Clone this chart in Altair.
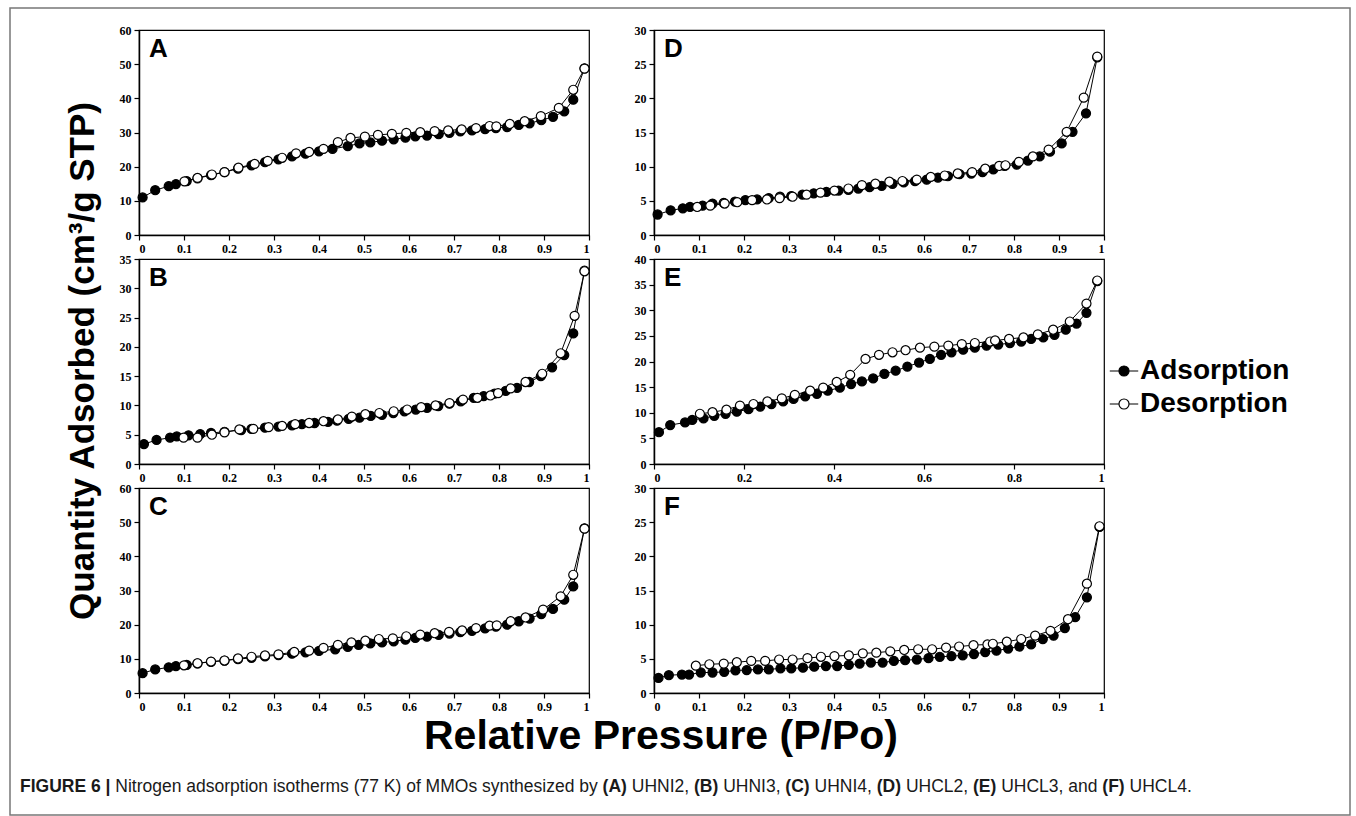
import altair as alt
import pandas as pd

SERIES = ["Adsorption", "Desorption"]

# ---------------- data ----------------
A_ads_x = [0.008,0.036,0.066,0.082,0.106,0.13,0.16,0.19,0.22,0.25,0.28,0.31,0.34,0.37,0.40,0.43,0.464,0.49,0.514,0.54,0.566,0.592,0.614,0.64,0.666,0.69,0.714,0.74,0.769,0.793,0.818,0.844,0.868,0.894,0.92,0.945,0.965,0.99]
A_ads_y = [11.0,13.1,14.3,14.9,15.8,16.6,17.5,18.4,19.4,20.4,21.3,22.1,23.0,23.8,24.5,25.2,26.0,26.8,27.1,27.6,28.0,28.5,28.9,29.1,29.5,29.9,30.3,30.6,31.0,31.3,31.6,32.2,32.7,33.6,34.6,36.2,39.6,48.8]
A_des_x = [0.101,0.13,0.162,0.19,0.221,0.257,0.286,0.318,0.349,0.378,0.41,0.442,0.47,0.502,0.531,0.562,0.594,0.625,0.657,0.687,0.717,0.749,0.779,0.794,0.824,0.857,0.893,0.933,0.965,0.99]
A_des_y = [15.7,16.7,17.7,18.4,19.7,20.8,21.7,22.6,23.9,24.3,25.2,27.2,28.4,28.8,29.3,29.6,29.9,30.1,30.4,30.6,30.9,31.3,31.9,31.8,32.5,33.3,34.8,37.2,42.5,48.7]

B_ads_x = [0.011,0.039,0.069,0.084,0.11,0.136,0.16,0.19,0.227,0.25,0.28,0.31,0.34,0.362,0.39,0.42,0.44,0.466,0.49,0.515,0.54,0.565,0.59,0.615,0.64,0.665,0.69,0.715,0.744,0.766,0.79,0.815,0.84,0.867,0.893,0.918,0.945,0.965,0.99]
B_ads_y = [3.4,4.1,4.5,4.7,4.9,5.1,5.3,5.5,5.8,6.0,6.2,6.4,6.6,6.8,7.0,7.2,7.4,7.7,7.9,8.2,8.4,8.7,9.0,9.3,9.6,9.9,10.3,10.7,11.3,11.6,12.0,12.5,13.0,14.0,15.0,16.5,18.6,22.3,33.0]
B_des_x = [0.099,0.13,0.162,0.19,0.223,0.254,0.288,0.318,0.347,0.378,0.41,0.442,0.473,0.503,0.534,0.566,0.596,0.627,0.659,0.69,0.72,0.752,0.781,0.798,0.826,0.859,0.896,0.937,0.968,0.99]
B_des_y = [4.5,4.5,5.0,5.4,5.9,6.0,6.3,6.5,6.8,7.0,7.3,7.6,8.1,8.5,8.7,9.0,9.3,9.7,10.0,10.4,11.0,11.3,11.7,12.1,12.9,14.0,15.4,18.9,25.3,32.9]

C_ads_x = [0.008,0.036,0.066,0.082,0.106,0.13,0.16,0.19,0.22,0.25,0.28,0.31,0.34,0.37,0.40,0.436,0.464,0.488,0.514,0.54,0.566,0.592,0.614,0.64,0.666,0.69,0.714,0.74,0.769,0.793,0.818,0.844,0.868,0.894,0.92,0.945,0.965,0.99]
C_ads_y = [5.8,6.9,7.5,7.9,8.2,8.7,9.1,9.5,9.9,10.3,10.7,11.1,11.5,11.9,12.3,12.8,13.5,14.1,14.5,14.8,15.1,15.6,16.1,16.5,17.0,17.4,17.8,18.2,18.9,19.4,20.0,21.0,21.8,23.1,24.6,27.3,31.2,48.2]
C_des_x = [0.10,0.13,0.16,0.19,0.22,0.25,0.28,0.31,0.345,0.378,0.41,0.442,0.472,0.503,0.533,0.564,0.594,0.625,0.657,0.689,0.718,0.749,0.779,0.795,0.826,0.859,0.898,0.937,0.965,0.99]
C_des_y = [8.1,8.7,9.2,9.5,10.1,10.6,11.0,11.3,12.0,12.4,13.2,14.1,14.8,15.3,15.8,16.0,16.6,17.1,17.5,17.9,18.3,19.0,19.7,19.8,21.0,22.1,24.4,28.3,34.6,48.1]

D_ads_x = [0.008,0.037,0.064,0.08,0.108,0.13,0.155,0.18,0.203,0.229,0.255,0.28,0.305,0.33,0.355,0.383,0.41,0.432,0.454,0.479,0.506,0.53,0.555,0.58,0.606,0.631,0.653,0.679,0.705,0.73,0.754,0.779,0.806,0.831,0.857,0.88,0.906,0.93,0.96,0.985]
D_ads_y = [3.0,3.6,3.9,4.1,4.3,4.6,4.7,4.9,5.1,5.2,5.4,5.6,5.7,5.9,6.1,6.3,6.5,6.6,6.8,7.0,7.2,7.5,7.7,7.9,8.1,8.4,8.6,8.9,9.0,9.2,9.6,10.1,10.3,10.9,11.5,12.2,13.4,15.1,17.8,26.0]
D_des_x = [0.096,0.125,0.157,0.185,0.218,0.251,0.279,0.308,0.339,0.37,0.401,0.432,0.462,0.492,0.523,0.552,0.584,0.615,0.646,0.675,0.707,0.736,0.767,0.781,0.811,0.842,0.877,0.917,0.955,0.985]
D_des_y = [4.1,4.3,4.6,4.8,5.1,5.2,5.4,5.6,5.9,6.2,6.5,6.8,7.3,7.5,7.8,7.9,8.1,8.5,8.7,9.0,9.2,9.7,10.1,10.2,10.7,11.5,12.5,15.1,20.1,26.1]

E_ads_x = [0.011,0.036,0.069,0.085,0.11,0.134,0.159,0.184,0.21,0.236,0.261,0.287,0.31,0.336,0.362,0.386,0.413,0.438,0.462,0.487,0.512,0.537,0.563,0.589,0.613,0.638,0.661,0.687,0.713,0.739,0.765,0.791,0.816,0.838,0.865,0.89,0.915,0.939,0.961,0.985]
E_ads_y = [6.2,7.6,8.1,8.6,8.9,9.4,9.8,10.2,10.7,11.2,11.7,12.2,12.7,13.2,13.7,14.3,14.9,15.6,16.1,16.7,17.6,18.2,19.0,19.8,20.5,21.3,21.8,22.3,22.7,23.1,23.3,23.6,23.9,24.4,24.7,25.2,26.2,27.4,29.5,35.7]
E_des_x = [0.102,0.13,0.161,0.191,0.221,0.252,0.284,0.313,0.347,0.376,0.406,0.436,0.47,0.5,0.53,0.559,0.591,0.623,0.654,0.684,0.713,0.747,0.758,0.789,0.821,0.853,0.887,0.924,0.961,0.985]
E_des_y = [9.8,10.1,10.6,11.4,11.7,12.2,12.8,13.5,14.3,14.9,16.0,17.4,20.5,21.3,21.8,22.2,22.7,22.9,23.1,23.4,23.6,23.9,24.1,24.4,24.7,25.3,26.2,27.8,31.3,35.8]

F_ads_x = [0.01,0.033,0.062,0.078,0.104,0.13,0.156,0.181,0.206,0.231,0.255,0.281,0.305,0.331,0.356,0.382,0.407,0.433,0.457,0.482,0.508,0.533,0.558,0.584,0.61,0.635,0.661,0.686,0.711,0.736,0.761,0.787,0.812,0.838,0.864,0.888,0.913,0.936,0.962,0.99]
F_ads_y = [2.2,2.6,2.7,2.7,3.0,3.0,3.1,3.3,3.35,3.45,3.45,3.6,3.6,3.7,3.85,3.95,3.95,4.1,4.3,4.45,4.45,4.7,4.8,4.9,5.1,5.3,5.4,5.5,5.7,6.0,6.2,6.5,6.8,7.1,7.9,8.4,9.5,11.1,14.0,24.3]
F_des_x = [0.093,0.123,0.155,0.184,0.216,0.247,0.278,0.308,0.341,0.371,0.401,0.433,0.464,0.494,0.525,0.556,0.587,0.618,0.649,0.678,0.71,0.741,0.753,0.784,0.816,0.847,0.881,0.92,0.962,0.99]
F_des_y = [4.0,4.2,4.3,4.5,4.7,4.7,4.9,4.9,5.1,5.3,5.4,5.5,5.8,5.9,6.1,6.3,6.4,6.4,6.65,6.8,7.0,7.1,7.2,7.5,7.9,8.4,9.1,10.8,16.0,24.4]

X_TICKS_TENTHS = [0, 0.1, 0.2, 0.3, 0.4, 0.5, 0.6, 0.7, 0.8, 0.9, 1]
X_TICKS_FIFTHS = [0, 0.2, 0.4, 0.6, 0.8, 1]

Y_TITLE = "Quantity Adsorbed (cm³/g STP)"
X_TITLE = "Relative Pressure (P/Po)"
CAPTION_TEXT = ["FIGURE 6 |", "Nitrogen adsorption isotherms (77 K) of MMOs synthesized by",
                "(A)", "UHNI2,", "(B)", "UHNI3,", "(C)", "UHNI4,", "(D)", "UHCL2,",
                "(E)", "UHCL3, and", "(F)", "UHCL4."]
CAPTION_BOLD = [True, False, True, False, True, False, True, False, True, False, True, False, True, False]

# ---------------- layout (pixels) ----------------
PW, PH = 450, 205
ORIGIN_X, ORIGIN_Y = 137, 28          # absolute position of panel A's plot area
CAPTION_X0, CAPTION_Y_ABS, CAPTION_SIZE = 18, 785, 17.5

SANS = "Liberation Sans"
SERIF = "Liberation Serif"

# Arial / Liberation Sans advance widths (1/1000 em) used to lay the caption runs side by side
_REG = {" ": 278, "(": 333, ")": 333, ",": 278, ".": 278, "|": 260, "/": 278}
_REG.update({d: 556 for d in "0123456789"})
_REG.update(dict(A=667, B=667, C=722, D=722, E=667, F=611, G=778, H=722, I=278, K=667, L=556,
                 M=833, N=722, O=778, R=722, S=667, U=722))
_REG.update(dict(a=556, b=556, d=556, e=556, f=278, g=556, h=556, i=222, m=833, n=556, o=556,
                 p=556, r=333, s=500, t=278, y=500, z=500))
_BOLD = dict(_REG)
_BOLD.update({"|": 280, "A": 722, "B": 722, "G": 778, "R": 722})


def text_w(s, bold, size):
    tab = _BOLD if bold else _REG
    return sum(tab.get(c, 556) for c in s) * size / 1000.0


LEGEND = alt.Legend(
    title=None, orient="none", legendX=1108 - ORIGIN_X, legendY=355 - ORIGIN_Y,
    symbolType="M-1.7,0H-0.6M0.6,0H1.7M-0.6,0A0.6,0.6,0,1,1,0.6,0A0.6,0.6,0,1,1,-0.6,0Z",
    symbolSize=280, symbolStrokeColor="black", symbolStrokeWidth=1.2, symbolOpacity=1,
    labelFont=SANS, labelFontWeight="bold", labelFontSize=28, labelColor="black",
    labelOffset=2, rowPadding=5, padding=0,
)


def make_df(ax, ay, dx, dy):
    return pd.DataFrame({
        "p": list(ax) + list(dx),
        "q": list(ay) + list(dy),
        "series": [SERIES[0]] * len(ax) + [SERIES[1]] * len(dx),
    })


def panel(letter, df, ymax, ystep, xticks, extra=()):
    yticks = list(range(0, ymax + 1, ystep))
    x = alt.X("p:Q", scale=alt.Scale(domain=[0, 1], nice=False, zero=False),
              axis=alt.Axis(values=xticks, format=".1~f", title=None))
    y = alt.Y("q:Q", scale=alt.Scale(domain=[0, ymax], nice=False),
              axis=alt.Axis(values=yticks, format="d", title=None))
    base = alt.Chart(df)
    lines = base.mark_line(color="black", strokeWidth=1).encode(x=x, y=y, detail="series:N")
    pts = base.mark_point(filled=True, size=82, stroke="black", strokeWidth=1.2, opacity=1).encode(
        x=x, y=y,
        fill=alt.Fill("series:N", scale=alt.Scale(domain=SERIES, range=["black", "white"]), legend=LEGEND),
    )
    lab = alt.Chart(pd.DataFrame({"t": [letter]})).mark_text(
        font=SANS, fontWeight="bold", fontSize=26, align="left", baseline="middle", color="black"
    ).encode(x=alt.value(10), y=alt.value(19), text="t:N")
    return alt.layer(lines, pts, lab, *extra).properties(width=PW, height=PH)


one = pd.DataFrame({"k": [0]})
frame = alt.Chart(one).mark_rect(filled=False, stroke="#777", strokeWidth=1.5).encode(
    x=alt.value(8 - ORIGIN_X), x2=alt.value(1348 - ORIGIN_X),
    y=alt.value(6 - ORIGIN_Y), y2=alt.value(813 - ORIGIN_Y),
)
ytitle = alt.Chart(pd.DataFrame({"t": [Y_TITLE]})).mark_text(
    font=SANS, fontWeight="bold", fontSize=35, angle=270, align="center", baseline="middle", color="black"
).encode(x=alt.value(81 - ORIGIN_X), y=alt.value(359 - ORIGIN_Y), text="t:N")
xtitle = alt.Chart(pd.DataFrame({"t": [X_TITLE]})).mark_text(
    font=SANS, fontWeight="bold", fontSize=41, align="center", baseline="middle", color="black"
).encode(x=alt.value(659 - ORIGIN_X), y=alt.value(735 - ORIGIN_Y), text="t:N")

caption_layers = []
cx = CAPTION_X0
space = text_w(" ", False, CAPTION_SIZE)
for txt, bold in zip(CAPTION_TEXT, CAPTION_BOLD):
    caption_layers.append(
        alt.Chart(pd.DataFrame({"t": [txt]})).mark_text(
            font=SANS, fontWeight="bold" if bold else "normal",
            fontSize=CAPTION_SIZE, align="left", baseline="middle", color="#1a1a1a"
        ).encode(x=alt.value(cx - ORIGIN_X), y=alt.value(CAPTION_Y_ABS - ORIGIN_Y), text="t:N")
    )
    cx += text_w(txt, bold, CAPTION_SIZE) + space

pA = panel("A", make_df(A_ads_x, A_ads_y, A_des_x, A_des_y), 60, 10, X_TICKS_TENTHS,
           extra=[frame, ytitle, xtitle] + caption_layers)
pB = panel("B", make_df(B_ads_x, B_ads_y, B_des_x, B_des_y), 35, 5, X_TICKS_TENTHS)
pC = panel("C", make_df(C_ads_x, C_ads_y, C_des_x, C_des_y), 60, 10, X_TICKS_TENTHS)
pD = panel("D", make_df(D_ads_x, D_ads_y, D_des_x, D_des_y), 30, 5, X_TICKS_TENTHS)
pE = panel("E", make_df(E_ads_x, E_ads_y, E_des_x, E_des_y), 40, 5, X_TICKS_FIFTHS)
pF = panel("F", make_df(F_ads_x, F_ads_y, F_des_x, F_des_y), 30, 5, X_TICKS_TENTHS)

chart = alt.concat(
    pA, pD, pB, pE, pC, pF, columns=2, spacing={"row": 24, "column": 65}, bounds="flush"
).resolve_scale(fill="shared").configure_view(
    stroke="black", strokeWidth=1.2
).configure_axis(
    grid=False, domainColor="black", domainWidth=1.5, tickColor="black", tickWidth=1.2, tickSize=5,
    labelFont=SERIF, labelFontWeight="bold", labelFontSize=12, labelColor="black", labelPadding=3,
).properties(
    padding={"left": 8, "top": 6, "right": 0, "bottom": 0},
    background="white",
)

chart.save("out.html", embed_options={"renderer": "svg", "actions": False})
